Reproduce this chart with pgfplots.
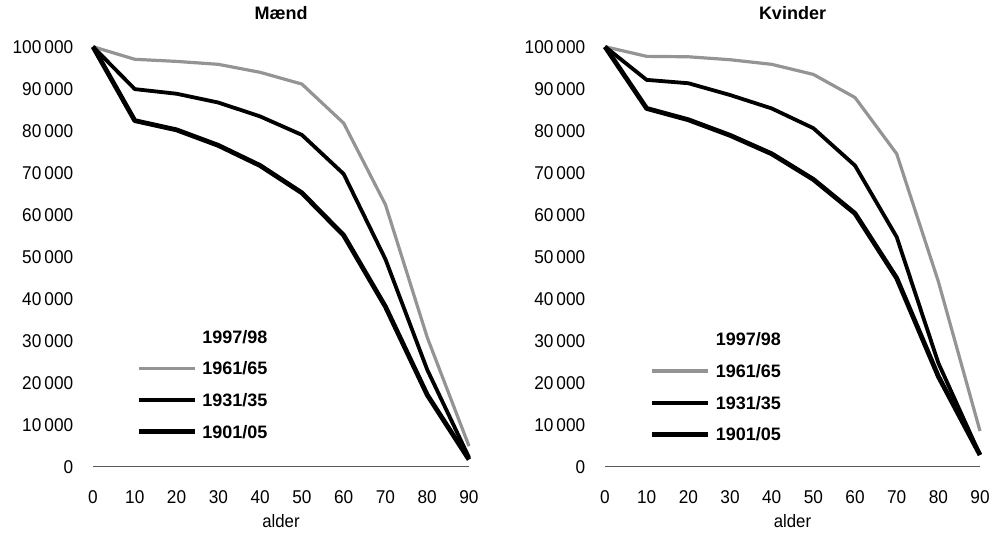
\documentclass[border=0pt]{standalone}
\usepackage{fontspec}
\setmainfont{Liberation Sans}
\newfontfamily\tickfont[FakeStretch=0.93]{Liberation Sans}
\usepackage{pgfplots}
\pgfplotsset{compat=1.18}

\definecolor{lysgraa}{gray}{0.58}

% Maend: overlevende af 100 000 levendefoedte
\pgfplotstableread{
alder  y9798   y6165  y3135  y0105
0      100000  100000 100000 100000
10     99200   97000  89900  82400
20     98900   96500  88800  80200
30     98200   95800  86700  76500
40     97000   93900  83400  71700
50     94500   91100  79000  65200
60     88500   81800  69700  55100
70     75000   62400  49400  38100
80     47000   30800  23100  17100
90     12000   4900   2200   1700
}\maend

% Kvinder
\pgfplotstableread{
alder  y9798   y6165  y3135  y0105
0      100000  100000 100000 100000
10     99400   97700  92100  85300
20     99200   97600  91300  82600
30     98800   96900  88500  78900
40     97900   95800  85300  74500
50     96200   93400  80600  68400
60     92500   87900  71700  60300
70     84000   74500  54700  44900
80     60000   44100  24700  21500
90     18000   8500   2800   2800
}\kvinder

\pgfplotsset{
  panel/.style={
    scale only axis,
    xmin=0, xmax=90, ymin=0, ymax=100000,
    axis x line=bottom, axis y line=left,
    x axis line style={-, draw=black!65, line width=1.2bp},
    y axis line style={draw=none},
    tick style={draw=none},
    xtick={0,10,...,90},
    ytick={0,10000,...,100000},
    scaled y ticks=false,
    yticklabel={\pgfmathprintnumber[fixed, precision=0, 1000 sep={\,}, assume math mode=true]{\tick}},
    xticklabel={\pgfmathprintnumber[fixed, precision=0, assume math mode=true]{\tick}},
    ticklabel style={font=\tickfont\fontsize{18.5bp}{20bp}\selectfont, inner sep=0pt},
    yticklabel style={anchor=east},
    yticklabel shift=17.5bp,
    xticklabel style={anchor=north},
    xticklabel shift=22bp,
    xlabel={alder},
    xlabel style={font=\tickfont\fontsize{18bp}{20bp}\selectfont, inner sep=0pt,
      at={(axis description cs:0.5,0)}, anchor=north, yshift=-47.5bp},
    title style={font=\bfseries\fontsize{18bp}{20bp}\selectfont, inner sep=0pt,
      at={(axis description cs:0.5,1)}, anchor=center, yshift=28bp},
    clip=false,
    legend cell align=left,
    legend image code/.code={\draw[##1] (0bp,1.5bp) -- (56bp,1.5bp);},
    legend style={draw=none, fill=none, inner sep=0pt, outer sep=0pt,
      anchor=north west, row sep=15.7bp, column sep=5bp,
      font=\bfseries\fontsize{18bp}{20bp}\selectfont,
      nodes={inner sep=0pt, text height=13bp, text depth=3bp}},
  },
  l9798/.style={draw=white, line width=2bp, line join=round},
  l6165/.style={draw=lysgraa, line width=3.2bp, line join=round},
  l3135/.style={draw=black, line width=3.8bp, line join=round},
  l0105/.style={draw=black, line width=4.8bp, line join=round},
}

\begin{document}
\begin{tikzpicture}
  \useasboundingbox (0,0) rectangle (1005bp,533bp);

  \begin{axis}[panel, at={(93bp,66.3bp)}, width=376bp, height=420bp,
      title={Mænd}, legend style={at={(0.116,0.325)}}]
    \addplot[l9798] table[x=alder, y=y9798] {\maend};
    \addplot[l6165] table[x=alder, y=y6165] {\maend};
    \addplot[l3135] table[x=alder, y=y3135] {\maend};
    \addplot[l0105] table[x=alder, y=y0105] {\maend};
    \legend{1997/98, 1961/65, 1931/35, 1901/05}
  \end{axis}

  \begin{axis}[panel, at={(605bp,66.3bp)}, width=375bp, height=420bp,
      title={Kvinder}, legend style={at={(0.12,0.319)}}]
    \addplot[l9798] table[x=alder, y=y9798] {\kvinder};
    \addplot[l6165] table[x=alder, y=y6165] {\kvinder};
    \addplot[l3135] table[x=alder, y=y3135] {\kvinder};
    \addplot[l0105] table[x=alder, y=y0105] {\kvinder};
    \legend{1997/98, 1961/65, 1931/35, 1901/05}
  \end{axis}
\end{tikzpicture}
\end{document}
